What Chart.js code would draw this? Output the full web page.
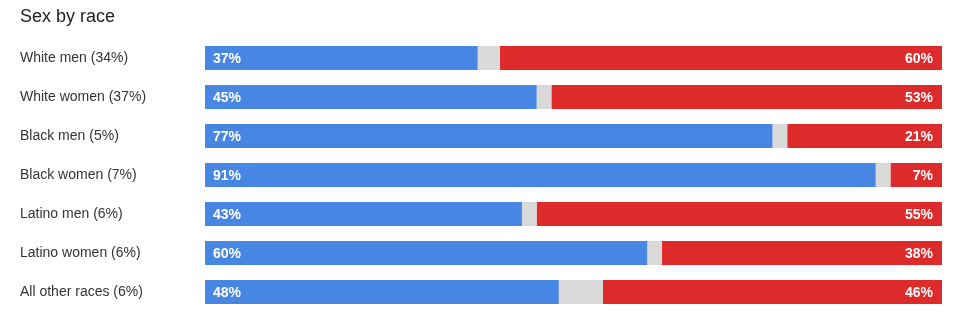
<!DOCTYPE html>
<html>
<head>
<meta charset="utf-8">
<script src="https://cdn.jsdelivr.net/npm/chart.js@4/dist/chart.umd.min.js"></script>
<style>
  html, body { margin: 0; padding: 0; background: #fff; }
  #wrap { width: 980px; height: 319px; position: relative; }
</style>
</head>
<body>
<div id="wrap"><canvas id="chart"></canvas></div>
<script>
const groups = ["White men (34%)", "White women (37%)", "Black men (5%)", "Black women (7%)",
  "Latino men (6%)", "Latino women (6%)", "All other races (6%)"];
const clinton = [37, 45, 77, 91, 43, 60, 48];
const other = [3, 2, 2, 2, 2, 2, 6];
const trump = [60, 53, 21, 7, 55, 38, 46];

const FONT = "'Liberation Sans', Arial, Helvetica, sans-serif";

// white percentage labels inside the blue and red segments
const valueLabels = {
  id: 'valueLabels',
  afterDatasetsDraw(chart) {
    const ctx = chart.ctx;
    ctx.save();
    ctx.font = "bold 14px " + FONT;
    ctx.fillStyle = "#fff";
    ctx.textBaseline = "middle";
    chart.getDatasetMeta(0).data.forEach((bar, i) => {
      ctx.textAlign = "left";
      ctx.fillText(clinton[i] + "%", bar.base + 8, bar.y + 1);
    });
    chart.getDatasetMeta(2).data.forEach((bar, i) => {
      ctx.textAlign = "right";
      ctx.fillText(trump[i] + "%", bar.x - 9, bar.y + 1);
    });
    ctx.restore();
  }
};

new Chart(document.getElementById("chart"), {
  type: "bar",
  data: {
    labels: groups,
    datasets: [
      { label: "Clinton", data: clinton, backgroundColor: "#4886e3" },
      { label: "Other", data: other, backgroundColor: "#d9d9d9" },
      { label: "Trump", data: trump, backgroundColor: "#dd2a2b" }
    ]
  },
  options: {
    indexAxis: "y",
    responsive: true,
    maintainAspectRatio: false,
    animation: false,
    categoryPercentage: 24 / 39,
    barPercentage: 1,
    layout: { padding: { left: 20, right: 38, top: 0, bottom: 7.5 } },
    scales: {
      x: {
        stacked: true, min: 0, max: 100, display: false
      },
      y: {
        stacked: true,
        grid: { display: false },
        border: { display: false },
        ticks: {
          crossAlign: "far",
          color: "#333",
          font: { family: FONT, size: 14 }
        },
        afterFit(scale) {
          scale.width = 185;
          scale.paddingTop = 0;
          scale.paddingBottom = 0;
        }
      }
    },
    plugins: {
      legend: { display: false },
      tooltip: { enabled: false },
      title: {
        display: true,
        text: "Sex by race",
        align: "start",
        color: "#222",
        font: { family: FONT, size: 18, weight: "normal" },
        padding: { top: 6, bottom: 11 }
      }
    }
  },
  plugins: [valueLabels]
});
</script>
</body>
</html>
